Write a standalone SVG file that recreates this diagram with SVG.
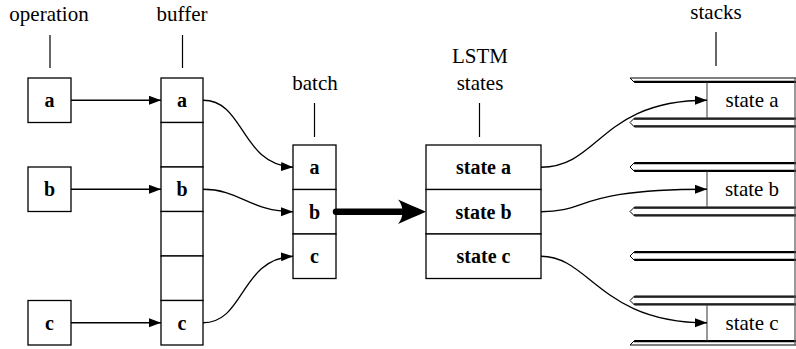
<svg xmlns="http://www.w3.org/2000/svg" width="796" height="349" viewBox="0 0 796 349" font-family="'Liberation Serif','Times New Roman','DejaVu Serif',serif">
<style>
text{font-family:'Liberation Serif','Times New Roman','DejaVu Serif',serif;fill:#000;text-anchor:middle}
.lbl{font-size:21px}
.b{font-size:20px;font-weight:bold}
.n{font-size:21px}
.box{fill:#fff;stroke:#000;stroke-width:1.3}
.tick{stroke:#000;stroke-width:1.2}
.con{fill:none;stroke:#000;stroke-width:1.3}
.wall{fill:#fff;stroke:#000;stroke-width:1}
.wl{stroke:#000;stroke-width:1.5}
.gray{stroke:#555;stroke-width:1.2}
</style>
<defs>
<marker id="ah" markerWidth="13" markerHeight="10" refX="12" refY="4.5" orient="auto" markerUnits="userSpaceOnUse">
<path d="M0,0 L12,4.5 L0,9 z" fill="#000"/>
</marker>
</defs>
<rect width="796" height="349" fill="#fff"/>

<g id="operation">
<text class="lbl" x="49" y="21">operation</text>
<line class="tick" x1="50" y1="35" x2="50" y2="68"/>
<g id="op-a"><rect class="box" x="28" y="78" width="43" height="44.5"/><text class="b" x="49.5" y="107">a</text></g>
<g id="op-b"><rect class="box" x="28" y="167" width="43" height="44.5"/><text class="b" x="49.5" y="196">b</text></g>
<g id="op-c"><rect class="box" x="28" y="300.5" width="43" height="44.5"/><text class="b" x="49.5" y="329.5">c</text></g>
</g>

<g id="buffer">
<text class="lbl" x="182" y="21">buffer</text>
<line class="tick" x1="182.5" y1="35" x2="182.5" y2="68"/>
<rect class="box" x="161" y="78" width="42" height="44.5"/>
<rect class="box" x="161" y="122.5" width="42" height="44.5"/>
<rect class="box" x="161" y="167" width="42" height="44.5"/>
<rect class="box" x="161" y="211.5" width="42" height="44.5"/>
<rect class="box" x="161" y="256" width="42" height="44.5"/>
<rect class="box" x="161" y="300.5" width="42" height="44.5"/>
<text class="b" x="182" y="107">a</text>
<text class="b" x="182" y="196">b</text>
<text class="b" x="182" y="329.5">c</text>
</g>

<g id="batch">
<text class="lbl" x="315" y="90">batch</text>
<line class="tick" x1="314.5" y1="103" x2="314.5" y2="137"/>
<rect class="box" x="293" y="145" width="43" height="44.5"/>
<rect class="box" x="293" y="189.5" width="43" height="44.5"/>
<rect class="box" x="293" y="234" width="43" height="44.5"/>
<text class="b" x="314.5" y="174">a</text>
<text class="b" x="314.5" y="218.5">b</text>
<text class="b" x="314.5" y="263">c</text>
</g>

<g id="lstm-states">
<text class="lbl" x="480" y="63">LSTM</text>
<text class="lbl" x="480" y="90">states</text>
<line class="tick" x1="479.5" y1="103" x2="479.5" y2="137"/>
<rect class="box" x="426" y="145" width="115" height="44.5"/>
<rect class="box" x="426" y="189.5" width="115" height="44.5"/>
<rect class="box" x="426" y="234" width="115" height="44.5"/>
<text class="b" x="483.5" y="174">state a</text>
<text class="b" x="483.5" y="218.5">state b</text>
<text class="b" x="483.5" y="263">state c</text>
</g>

<g id="stacks">
<text class="lbl" x="716" y="19">stacks</text>
<line class="tick" x1="716" y1="32" x2="716" y2="66"/>
<path class="wall" d="M630,78 L800,78 L800,82.5 L634.5,82.5 Z"/>
<line class="wl" x1="634" y1="81.5" x2="800" y2="81.5"/>
<g id="wall-1"><path class="wall" d="M630,122.5 L634.5,118 L800,118 L800,127 L634.5,127 Z"/><line class="wl" x1="634" y1="119" x2="800" y2="119"/><line class="wl" x1="634" y1="126" x2="800" y2="126"/></g>
<g id="wall-2"><path class="wall" d="M630,167 L634.5,162.5 L800,162.5 L800,171.5 L634.5,171.5 Z"/><line class="wl" x1="634" y1="163.5" x2="800" y2="163.5"/><line class="wl" x1="634" y1="170.5" x2="800" y2="170.5"/></g>
<g id="wall-3"><path class="wall" d="M630,211.5 L634.5,207 L800,207 L800,216 L634.5,216 Z"/><line class="wl" x1="634" y1="208" x2="800" y2="208"/><line class="wl" x1="634" y1="215" x2="800" y2="215"/></g>
<g id="wall-4"><path class="wall" d="M630,256 L634.5,251.5 L800,251.5 L800,260.5 L634.5,260.5 Z"/><line class="wl" x1="634" y1="252.5" x2="800" y2="252.5"/><line class="wl" x1="634" y1="259.5" x2="800" y2="259.5"/></g>
<g id="wall-5"><path class="wall" d="M630,300.5 L634.5,296 L800,296 L800,305 L634.5,305 Z"/><line class="wl" x1="634" y1="297" x2="800" y2="297"/><line class="wl" x1="634" y1="304" x2="800" y2="304"/></g>
<path class="wall" d="M630,345 L634.5,340.5 L800,340.5 L800,345 Z"/>
<line class="wl" x1="634" y1="341.5" x2="800" y2="341.5"/>
<line class="gray" x1="795" y1="78" x2="795" y2="345"/>
<g id="stack-a"><line class="gray" x1="707" y1="82.5" x2="707" y2="118"/><text class="n" x="752" y="107">state a</text></g>
<g id="stack-b"><line class="gray" x1="707" y1="171.5" x2="707" y2="207"/><text class="n" x="752" y="196">state b</text></g>
<g id="stack-c"><line class="gray" x1="707" y1="305" x2="707" y2="340.5"/><text class="n" x="752" y="329.5">state c</text></g>
</g>

<g id="connectors">
<line class="con" x1="71" y1="100.25" x2="161" y2="100.25" marker-end="url(#ah)"/>
<line class="con" x1="71" y1="189.25" x2="161" y2="189.25" marker-end="url(#ah)"/>
<line class="con" x1="71" y1="322.75" x2="161" y2="322.75" marker-end="url(#ah)"/>
<path class="con" d="M203,100.25 C245,100.25 240,164 293,167.25" marker-end="url(#ah)"/>
<path class="con" d="M203,189.25 C240,189.25 250,211.75 293,211.75" marker-end="url(#ah)"/>
<path class="con" d="M203,322.75 C245,322.75 240,259 293,256.25" marker-end="url(#ah)"/>
<line x1="336" y1="211.75" x2="404" y2="211.75" stroke="#000" stroke-width="6.5" stroke-linecap="round"/>
<path d="M426,211.75 C415,207 406,203 398,199.5 C404,206 404,217.5 398,224 C406,220.5 415,216.5 426,211.75 Z" fill="#000"/>
<path class="con" d="M541,167.25 C600,167.25 600,100.25 707,100.25" marker-end="url(#ah)"/>
<path class="con" d="M541,211.75 C590,211.75 575,189.25 707,189.25" marker-end="url(#ah)"/>
<path class="con" d="M541,256.25 C590,256.25 600,322.75 707,322.75" marker-end="url(#ah)"/>
</g>
</svg>
